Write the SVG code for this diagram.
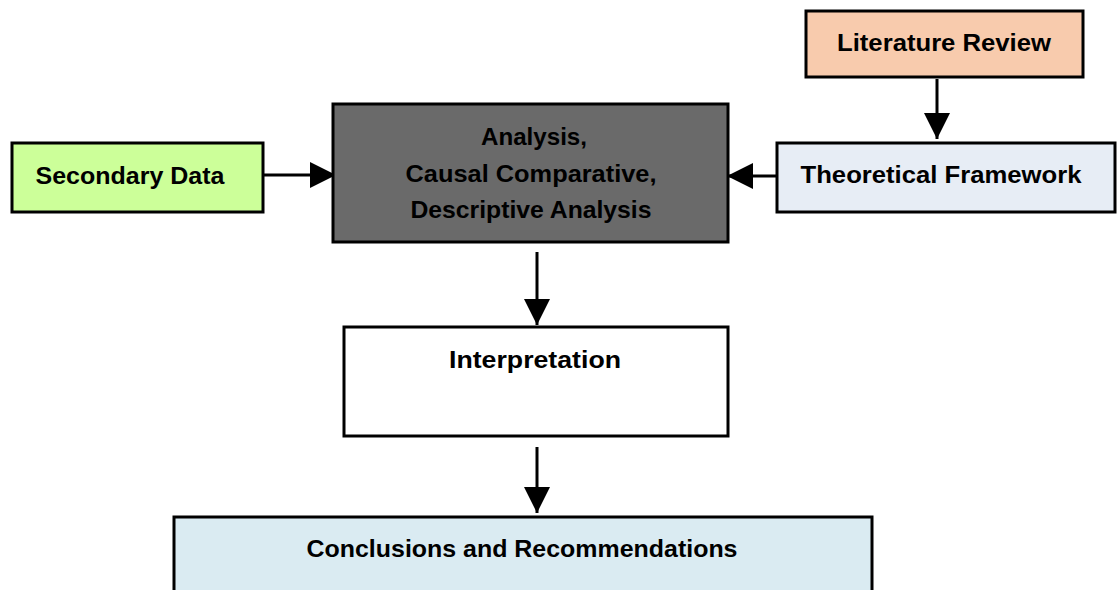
<svg xmlns="http://www.w3.org/2000/svg" width="1119" height="590" viewBox="0 0 1119 590">
<style>
.box{stroke:#000;stroke-width:3}
.t{font-family:"Liberation Sans",Arial,sans-serif;font-weight:bold;font-size:24.5px;fill:#000;text-anchor:middle}
.c{stroke:#000;stroke-width:3;fill:none}
</style>
<defs>
<marker id="ah" markerUnits="userSpaceOnUse" markerWidth="28" markerHeight="28" refX="26" refY="13" orient="auto">
<path d="M0,0 L26,13 L0,26 Z" fill="#000"/>
</marker>
</defs>
<rect width="1119" height="590" fill="#fff"/>
<g id="connectors">
<line class="c" x1="262" y1="175" x2="336" y2="175" marker-end="url(#ah)"/>
<line class="c" x1="937" y1="79" x2="937" y2="139" marker-end="url(#ah)"/>
<line class="c" x1="780" y1="176" x2="727" y2="176" marker-end="url(#ah)"/>
<line class="c" x1="537" y1="252" x2="537" y2="325" marker-end="url(#ah)"/>
<line class="c" x1="537" y1="447" x2="537" y2="513" marker-end="url(#ah)"/>
</g>
<g id="literature-review">
<rect class="box" x="806" y="11" width="277" height="66" fill="#f8cbad"/>
<text class="t" x="944" y="51" textLength="214" lengthAdjust="spacingAndGlyphs">Literature Review</text>
</g>
<g id="secondary-data">
<rect class="box" x="12" y="143" width="251" height="69" fill="#ccff99"/>
<text class="t" x="130" y="184" textLength="189" lengthAdjust="spacingAndGlyphs">Secondary Data</text>
</g>
<g id="analysis">
<rect class="box" x="333" y="104" width="395" height="138" fill="#6a6a6a"/>
<text class="t" x="534" y="145" textLength="106" lengthAdjust="spacingAndGlyphs">Analysis,</text>
<text class="t" x="531" y="182" textLength="251" lengthAdjust="spacingAndGlyphs">Causal Comparative,</text>
<text class="t" x="531" y="218" textLength="241" lengthAdjust="spacingAndGlyphs">Descriptive Analysis</text>
</g>
<g id="theoretical-framework">
<rect class="box" x="777" y="143" width="338" height="69" fill="#e7edf5"/>
<text class="t" x="941" y="183" textLength="281" lengthAdjust="spacingAndGlyphs">Theoretical Framework</text>
</g>
<g id="interpretation">
<rect class="box" x="344" y="327" width="384" height="109" fill="#fff"/>
<text class="t" x="535" y="368" textLength="172" lengthAdjust="spacingAndGlyphs">Interpretation</text>
</g>
<g id="conclusions">
<rect class="box" x="174" y="517" width="698" height="80" fill="#daebf2"/>
<text class="t" x="522" y="557" textLength="431" lengthAdjust="spacingAndGlyphs">Conclusions and Recommendations</text>
</g>
</svg>
